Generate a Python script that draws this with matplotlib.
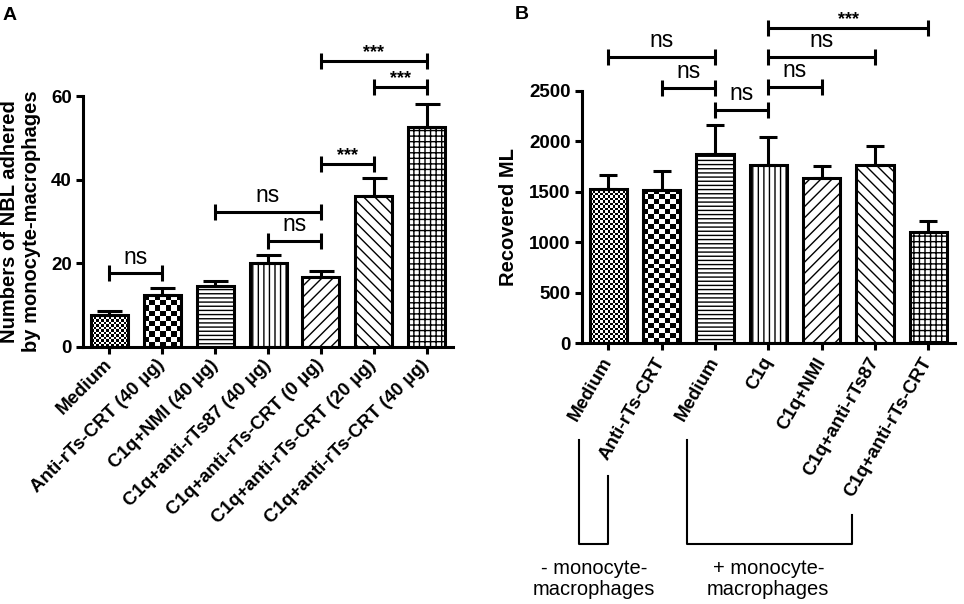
import numpy as np
import matplotlib
matplotlib.use('Agg')
import matplotlib.pyplot as plt
import matplotlib.transforms as mtransforms

plt.rcParams['font.family'] = ['Liberation Sans', 'DejaVu Sans']
plt.rcParams['hatch.linewidth'] = 1.0

# panel A
a_labels = ['Medium', 'Anti-rTs-CRT (40 µg)', 'C1q+NMI (40 µg)', 'C1q+anti-rTs87 (40 µg)',
            'C1q+anti-rTs-CRT (0 µg)', 'C1q+anti-rTs-CRT (20 µg)', 'C1q+anti-rTs-CRT (40 µg)']
a_means = [7.7, 12.4, 14.6, 20.0, 16.8, 36.2, 52.6]
a_errs = [0.9, 1.8, 1.2, 2.0, 1.3, 4.3, 5.6]
a_pairs = [(0, 1), (2, 4), (3, 4), (4, 5), (5, 6), (4, 6)]
a_pair_y = [17.6, 32.2, 25.4, 43.8, 62.1, 68.4]
a_pair_txt = ['ns', 'ns', 'ns', '***', '***', '***']

# panel B
b_labels = ['Medium', 'Anti-rTs-CRT', 'Medium', 'C1q', 'C1q+NMI', 'C1q+anti-rTs87', 'C1q+anti-rTs-CRT']
b_means = [1530, 1515, 1870, 1760, 1640, 1760, 1100]
b_errs = [135, 190, 295, 285, 115, 190, 110]
b_pairs = [(0, 2), (1, 2), (2, 3), (3, 4), (3, 5), (3, 6)]
b_pair_y = [2837, 2524, 2310, 2534, 2837, 3124]
b_pair_txt = ['ns', 'ns', 'ns', 'ns', 'ns', '***']

b_groups = ['- monocyte-\nmacrophages', '+ monocyte-\nmacrophages']

fills = ['checker2.5', 'checker5', '----', '|||', '///', '\\\\\\', '+++']
LW = 2.2


def checker_fill(ax, bar, cell_px):
    x0, y0 = bar.get_x(), bar.get_y()
    w, h = bar.get_width(), bar.get_height()
    (px0, py0), (px1, py1) = ax.transData.transform([(x0, y0), (x0 + w, y0 + h)])
    nx = max(1, int(round((px1 - px0) / cell_px)))
    ny = max(1, int(round((py1 - py0) / cell_px)))
    board = np.add.outer(np.arange(ny), np.arange(nx)) % 2
    im = ax.imshow(board, cmap='gray', extent=(x0, x0 + w, y0, y0 + h),
                   interpolation='nearest', aspect='auto', zorder=1.5)
    im.set_clip_path(bar)


def bracket(ax, i, j, y, text):
    ax.plot([i, j], [y, y], color='k', lw=LW, marker='|', markersize=12, mew=LW,
            clip_on=False, solid_capstyle='butt', zorder=4)
    if text == 'ns':
        ax.annotate(text, ((i + j) / 2, y), xytext=(0, 3.5), textcoords='offset points',
                    ha='center', va='bottom', fontsize=16.5, annotation_clip=False)
    else:
        ax.annotate(text, ((i + j) / 2, y), xytext=(0, 0), textcoords='offset points',
                    ha='center', va='bottom', fontsize=13, fontweight='bold',
                    annotation_clip=False)


def bar_panel(ax, labels, means, errs, ylim, yticks, rot, capsize):
    x = np.arange(len(labels))
    ax.set_xlim(-0.5, len(labels) - 0.5)
    ax.set_ylim(*ylim)
    bars = ax.bar(x, means, width=0.7, color='white', edgecolor='k', linewidth=LW, zorder=2)
    for bar, f in zip(bars, fills):
        if f.startswith('checker'):
            bar.set_facecolor('none')
            checker_fill(ax, bar, float(f[7:]))
        else:
            bar.set_hatch(f)
    ax.errorbar(x, means, yerr=[np.zeros(len(errs)), errs], fmt='none', ecolor='k',
                elinewidth=LW, capsize=capsize, capthick=LW, zorder=3)
    ax.set_xlim(-0.5, len(labels) - 0.5)
    ax.set_ylim(*ylim)
    ax.set_yticks(yticks)
    ax.set_xticks(x)
    ax.set_xticklabels(labels, rotation=rot, ha='right', va='center',
                       rotation_mode='anchor', fontsize=13.5, fontweight='bold')
    for t in ax.get_yticklabels():
        t.set_fontweight('bold')
    ax.tick_params(width=LW, length=5, labelsize=13.5, pad=3)
    ax.tick_params(axis='x', pad=6)
    for s in ['top', 'right']:
        ax.spines[s].set_visible(False)
    for s in ['left', 'bottom']:
        ax.spines[s].set_linewidth(LW)


fig = plt.figure(figsize=(9.64, 6.04), dpi=100)

axA = fig.add_axes([0.0861, 0.4255, 0.3839, 0.4155])
bar_panel(axA, a_labels, a_means, a_errs, (0, 60), [0, 20, 40, 60], 45, 9)
axA.set_ylabel('Numbers of NBL adhered\nby monocyte-macrophages', fontsize=14.5,
               fontweight='bold', labelpad=7)
for (i, j), y, t in zip(a_pairs, a_pair_y, a_pair_txt):
    bracket(axA, i, j, y, t)

axB = fig.add_axes([0.6034, 0.4316, 0.3873, 0.4182])
bar_panel(axB, b_labels, b_means, b_errs, (0, 2500), np.arange(0, 2501, 500), 60, 6.5)
axB.set_ylabel('Recovered ML', fontsize=14.5, fontweight='bold', labelpad=8)
for (i, j), y, t in zip(b_pairs, b_pair_y, b_pair_txt):
    bracket(axB, i, j, y, t)

# group brackets under panel B labels
trans = mtransforms.blended_transform_factory(axB.transData, axB.transAxes)
axB.plot([-0.55, -0.55, 0.0, 0.0], [-0.383, -0.795, -0.795, -0.525], color='k', lw=1.5,
         transform=trans, clip_on=False)
axB.plot([1.47, 1.47, 4.56, 4.56], [-0.383, -0.795, -0.795, -0.680], color='k', lw=1.5,
         transform=trans, clip_on=False)
axB.text(-0.27, -0.855, b_groups[0], transform=trans, ha='center', va='top',
         fontsize=14.5, linespacing=1.1)
axB.text(3.0, -0.855, b_groups[1], transform=trans, ha='center', va='top',
         fontsize=14.5, linespacing=1.1)

fig.text(0.003, 0.988, 'A', fontsize=14, fontweight='bold', va='top')
fig.text(0.534, 0.990, 'B', fontsize=14, fontweight='bold', va='top')

fig.savefig('out.png', dpi=100)
